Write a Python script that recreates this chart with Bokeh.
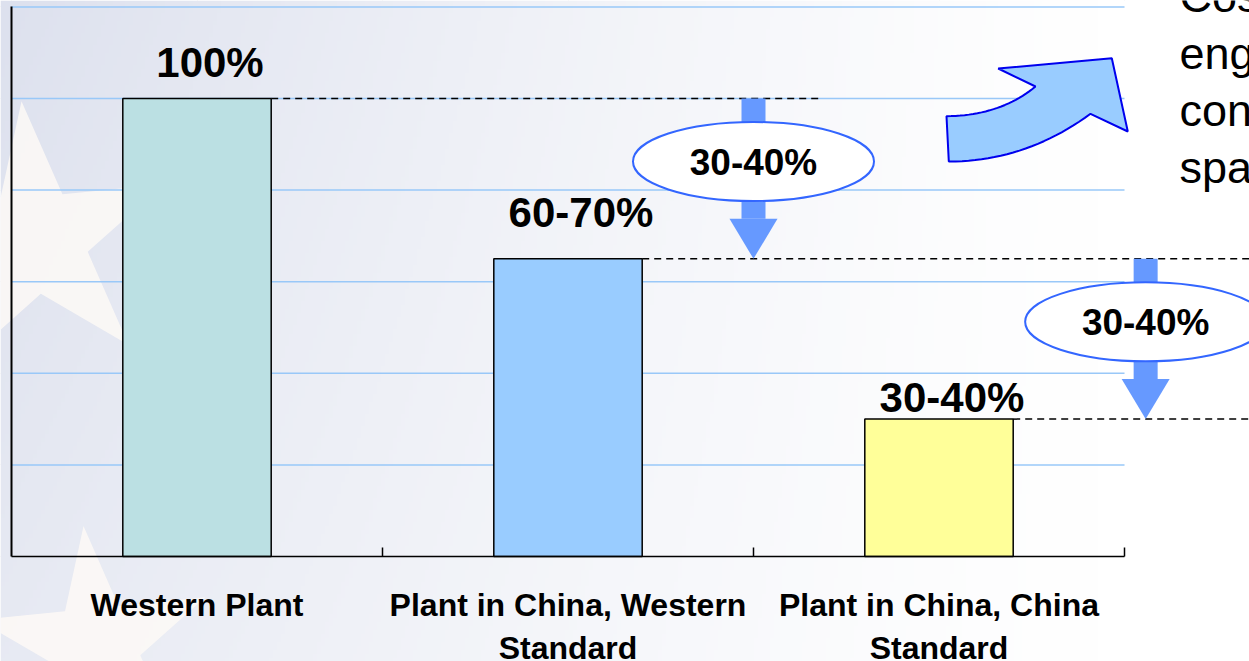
import numpy as np
from bokeh.plotting import figure
from bokeh.models import LinearAxis, FixedTicker, Range1d
from bokeh.core.properties import value
from bokeh.embed import file_html
from bokeh.resources import INLINE

# ---------------- data ----------------
categories = ["Western Plant",
              "Plant in China, Western\nStandard",
              "Plant in China, China\nStandard"]
values = [100, 65, 30]
value_labels = ["100%", "60-70%", "30-40%"]
bar_colors = ["#bbe0e3", "#99ccff", "#ffff99"]
step_labels = ["30-40%", "30-40%"]
gridline_values = [20, 40, 60, 80, 100, 120]
side_text = ["Cos", "eng", "con", "spa"]

# ---------------- layout helpers ----------------
W, H = 1249, 661
PX_X0 = 11          # pixel column of x = 0
PX_PER_CAT = 371    # pixels per category
PX_Y0 = 556         # pixel row of y = 0
PX_PER_PCT = 4.58   # pixels per percentage point

def dx(px):   # pixel distance -> data x distance
    return px / PX_PER_CAT

def dy(px):   # pixel distance -> data y distance
    return px / PX_PER_PCT

x_start, x_end = -dx(PX_X0), dx(W - PX_X0)
y_start, y_end = -dy(H - PX_Y0), dy(PX_Y0)

FONT = value("Liberation Sans")

p = figure(width=W, height=H, x_range=Range1d(x_start, x_end),
           y_range=Range1d(y_start, y_end), output_backend="svg",
           toolbar_location=None, title=None, x_axis_location=None,
           y_axis_location=None, min_border=0)
p.outline_line_color = None
p.background_fill_color = "white"
p.border_fill_color = "white"

# ---------------- background gradient ----------------
nx, ny = 312, 165
gx = np.linspace(0, W, nx)
gy = np.linspace(H, 0, ny)           # row 0 = bottom
GX, GY = np.meshgrid(gx, gy)
f = np.clip(1 - GX / 1100.0, 0, 1) ** 1.2 * (1 - 0.3 * GY / H)
img = np.empty((ny, nx), dtype=np.uint32)
view = img.view(dtype=np.uint8).reshape((ny, nx, 4))
view[..., 0] = (255 - 34 * f).astype(np.uint8)
view[..., 1] = (255 - 30 * f).astype(np.uint8)
view[..., 2] = (255 - 17 * f).astype(np.uint8)
view[..., 3] = 255
p.image_rgba(image=[img], x=x_start, y=y_start, dw=x_end - x_start, dh=y_end - y_start)

# faint decorative stars
p.scatter(x=[dx(24), dx(84)], y=[dy(PX_Y0 - 240), dy(PX_Y0 - 645)], marker="star",
          size=[280, 240], angle=0.1, fill_color="#fdf9f6", fill_alpha=0.85, line_color=None)

# ---------------- grid lines (only over the plot area) ----------------
ncat = len(categories)
p.segment(x0=[0] * len(gridline_values), y0=gridline_values,
          x1=[ncat] * len(gridline_values), y1=gridline_values,
          line_color="#99c8f8", line_width=1.5)

# ---------------- bars ----------------
centers = [i + 0.5 for i in range(ncat)]
bar_w = 0.4
dash_end = [2.186, x_end + 0.2, x_end + 0.2]
p.segment(x0=[c + bar_w / 2 for c in centers], y0=values, x1=dash_end, y1=values,
          line_color="black", line_width=1.5, line_dash="7 5")

p.vbar(x=centers, top=values, width=bar_w, fill_color=bar_colors,
       line_color="black", line_width=1.5)

p.text(x=centers, y=values, text=value_labels, x_offset=13, y_offset=[-36, -46, -22],
       text_align="center", text_baseline="alphabetic", text_font=FONT,
       text_font_style="bold", text_font_size="42px", text_color="black")

# ---------------- step arrows with ellipses ----------------
arrow_x = [2.0, 3.057]
shaft_hw, head_hw, head_len = dx(12), dx(24), dy(40)
ell_w, ell_h, ell_drop = dx(241), dy(79), dy(63)
tops = values[:-1]
bottoms = values[1:]
p.quad(left=[a - shaft_hw for a in arrow_x], right=[a + shaft_hw for a in arrow_x],
       top=tops, bottom=[b + head_len for b in bottoms],
       fill_color="#6699ff", line_color=None)
p.patches(xs=[[a - head_hw, a + head_hw, a] for a in arrow_x],
          ys=[[b + head_len, b + head_len, b] for b in bottoms],
          fill_color="#6699ff", line_color=None)
ell_y = [t - ell_drop for t in tops]
p.ellipse(x=arrow_x, y=ell_y, width=ell_w, height=ell_h, fill_color="white",
          line_color="#3366ff", line_width=2)
p.text(x=arrow_x, y=ell_y, text=step_labels, y_offset=1, text_align="center",
       text_baseline="alphabetic", text_font=FONT, text_font_style="bold",
       text_font_size="37px", text_color="black")

# ---------------- curved decorative arrow ----------------
def px2d(px, py):
    return ((px - PX_X0) / PX_PER_CAT, (PX_Y0 - py) / PX_PER_PCT)

def qbez(p0, c, p2, n=24):
    t = np.linspace(0, 1, n)
    return [((1 - s) ** 2 * np.array(p0) + 2 * (1 - s) * s * np.array(c) + s ** 2 * np.array(p2)) for s in t]

left_top = px2d(946, 115.7)
left_bot = px2d(948.3, 161)
bot_ctrl = px2d(1025, 161)
bot_notch = px2d(1090, 113.3)
barb_low = px2d(1127.3, 131)
tip = px2d(1111.3, 57.7)
barb_up = px2d(997.7, 68)
top_notch = px2d(1035, 86)
top_ctrl = px2d(999.5, 115.2)
pts = [left_top]
pts += qbez(left_bot, bot_ctrl, bot_notch)
pts += [barb_low, tip, barb_up]
pts += qbez(top_notch, top_ctrl, left_top)
p.patch(x=[q[0] for q in pts], y=[q[1] for q in pts], fill_color="#99ccff",
        line_color="#0000ee", line_width=2)

# ---------------- cut-off side text ----------------
side_x = dx(1179 - PX_X0)
side_y = [dy(PX_Y0 - (10 + 57 * i)) for i in range(len(side_text))]
p.text(x=[side_x] * len(side_text), y=side_y, text=side_text, text_align="left",
       y_offset=-14, text_baseline="alphabetic", text_font=FONT, text_font_size="45px",
       text_color="black")

# ---------------- axes ----------------
xaxis = LinearAxis(fixed_location=0, bounds=(0, ncat),
                   ticker=FixedTicker(ticks=centers, minor_ticks=[1, 2, 3]),
                   major_label_overrides={c: lab for c, lab in zip(centers, categories)})
xaxis.axis_line_color = "black"
xaxis.axis_line_width = 1.5
xaxis.major_tick_line_color = None
xaxis.minor_tick_line_color = "black"
xaxis.minor_tick_line_width = 1.5
xaxis.minor_tick_in = 9
xaxis.minor_tick_out = 0
xaxis.major_label_standoff = 24
xaxis.major_label_text_font = "Liberation Sans"
xaxis.major_label_text_font_style = "bold"
xaxis.major_label_text_font_size = "32px"
xaxis.major_label_text_color = "black"
xaxis.major_label_text_line_height = 1.2
p.add_layout(xaxis, "below")

yaxis = LinearAxis(fixed_location=0, bounds=(0, gridline_values[-1]),
                   ticker=FixedTicker(ticks=[]))
yaxis.axis_line_color = "black"
yaxis.axis_line_width = 2
yaxis.major_tick_line_color = None
yaxis.minor_tick_line_color = None
yaxis.major_label_text_font_size = "0px"
p.add_layout(yaxis, "left")

open("out.html", "w").write(file_html(p, INLINE))
